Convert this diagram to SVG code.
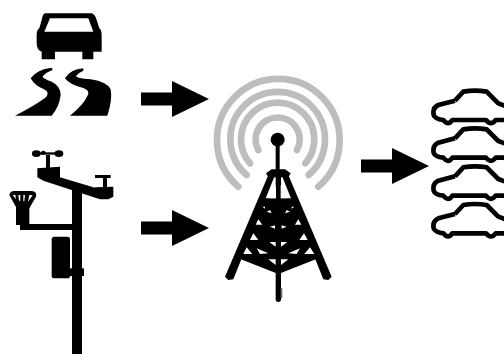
<svg xmlns="http://www.w3.org/2000/svg" xmlns:xlink="http://www.w3.org/1999/xlink" width="504" height="354" viewBox="0 0 504 354">
<style>
.k{fill:#000}.w{fill:#fff}
.arc{fill:none;stroke:#bdbdbd;stroke-width:20;stroke-linecap:round}
.l{fill:none;stroke:#000;stroke-linecap:round;stroke-linejoin:round}
.car{fill:none;stroke:#000;stroke-width:14;stroke-linejoin:round}
</style>
<defs>
<path id="car" class="car" d="M300,47 L325,20 Q360,14 395,20 L430,55 L470,70 M300,47 L250,60 Q232,68 236,90 Q240,102 265,105 Q280,124 292,105 L393,105 Q408,124 422,105 L470,105"/>
<polygon id="arr" class="k" points="0,-6.500 31,-6.500 31,-18 68,0 31,18 31,6.500 0,6.500"/>
</defs>
<rect width="504" height="354" fill="#fff"/>
<g id="road-hazard" transform="scale(.3333)">
<path class="k" d="M135,40 L275,40 Q285,42 290,60 L298,85 Q305,90 305,105 L305,155 L280,155 L280,178 L247,178 L247,155 L165,155 L165,178 L125,178 L125,155 Q110,150 110,130 L110,105 Q110,90 118,85 L125,60 Q128,42 135,40Z"/>
<path class="w" d="M150,55 L265,55 L280,95 L133,95Z"/>
<path class="k" d="M155,203 Q110,208 92,235 Q105,258 132,268 Q150,276 138,292 Q100,320 45,347 L155,347 Q178,320 182,285 Q182,258 155,245 Q128,235 128,230 Q135,218 158,210Z"/>
<path class="k" d="M250,205 Q210,208 195,235 Q208,254 250,264 Q272,272 262,288 Q250,315 210,347 L322,347 Q338,300 332,268 Q322,246 272,238 Q228,235 228,228 Q235,218 250,212Z"/>
</g>
<g id="weather-station" transform="translate(0 140) scale(.3333)">
<rect class="k" x="216" y="150" width="30" height="492"/>
<path class="k" d="M112,85 L180,80 L180,112 L290,145 L300,178 L215,150 L130,122 L112,112Z"/>
<path class="k" d="M285,142 L340,140 L340,170 L325,178 L300,178 L285,160Z"/>
<rect class="k" x="309" y="110" width="12" height="35"/>
<rect class="k" x="285" y="105" width="47" height="9"/>
<rect class="k" x="138" y="45" width="12" height="42"/>
<rect class="k" x="108" y="37" width="72" height="7"/>
<ellipse class="k" cx="109" cy="41" rx="13" ry="10"/>
<ellipse class="k" cx="177" cy="41" rx="13" ry="10"/>
<ellipse class="k" cx="130" cy="38" rx="7" ry="6"/>
<path class="k" d="M60,252 L216,252 L216,270 L60,270Z"/>
<rect class="k" x="48" y="200" width="40" height="55"/>
<path class="k" d="M28,165 Q30,152 45,153 L95,153 Q112,155 108,170 L88,205 L50,205Z"/>
<path class="w" d="M38,165 L46,165 L48,178Z M55,165 L61,165 L61,182 L57,182Z M70,165 L75,165 L73,184 L70,184Z M88,165 L98,166 L84,186Z"/>
<rect class="k" x="155" y="290" width="55" height="125" rx="8"/>
<rect class="k" x="205" y="385" width="47" height="23"/>
</g>
<g id="tower" transform="translate(205 70) scale(.3333)">
<path class="arc" d="M100,350 A184,184 0 1 1 340,350"/>
<path class="arc" d="M125,315 A142,142 0 1 1 311,315"/>
<path class="arc" d="M135,280 A110,110 0 1 1 301,280"/>
<path class="arc" d="M160,240 A66,66 0 1 1 276,240"/>
<circle class="k" cx="218" cy="209" r="21"/>
<rect class="k" x="212" y="225" width="12" height="85"/>
<path class="k" d="M183,310 L200,298 L240,298 L257,310 L250,322 L190,322Z"/>
<path class="k" d="M190,315 L60,620 L70,630 L85,628 L208,320Z M250,315 L380,620 L370,630 L355,628 L232,320Z"/>
<path class="l" stroke-width="16" d="M220,315 L220,688"/>
<path class="k" d="M170,385 L270,385 L340,565 L220,612 L100,565Z"/>
<g class="w">
<path d="M213,345 L213,385 L195,385Z M227,345 L227,385 L245,385Z"/>
<path d="M172,410 L180,410 L180,416Z M268,410 L260,410 L260,416Z"/>
<path d="M160,448 L152,464 L172,464Z M280,448 L270,464 L289,464Z"/>
<path d="M145,490 L135,510 L160,510Z M297,490 L283,510 L308,510Z"/>
<path d="M125,532 L115,552 L142,552Z M315,532 L298,552 L328,552Z"/>
<path d="M193,516 L212,530 L212,516Z M247,516 L228,530 L228,516Z"/>
<path d="M190,568 L212,585 L212,568Z M250,568 L228,585 L228,568Z"/>
<path d="M195,470 L210,476 L210,466Z M245,470 L230,476 L230,466Z"/>
<path d="M185,425 L200,430 L195,420Z M255,425 L240,430 L245,420Z"/>
<path d="M155,535 L190,550 L165,552Z M285,535 L250,550 L275,552Z"/>
</g>
<rect x="227" y="655" width="5" height="30" fill="#666"/>
</g>
<g id="cars" transform="translate(355 85) scale(.3333)">
<use href="#car" xlink:href="#car"/>
<use href="#car" xlink:href="#car" y="113"/>
<use href="#car" xlink:href="#car" y="227"/>
<use href="#car" xlink:href="#car" y="340"/>
</g>
<g id="connectors">
<use href="#arr" xlink:href="#arr" x="141" y="99"/>
<use href="#arr" xlink:href="#arr" x="141" y="228"/>
<use href="#arr" xlink:href="#arr" x="361" y="166"/>
</g>
</svg>
